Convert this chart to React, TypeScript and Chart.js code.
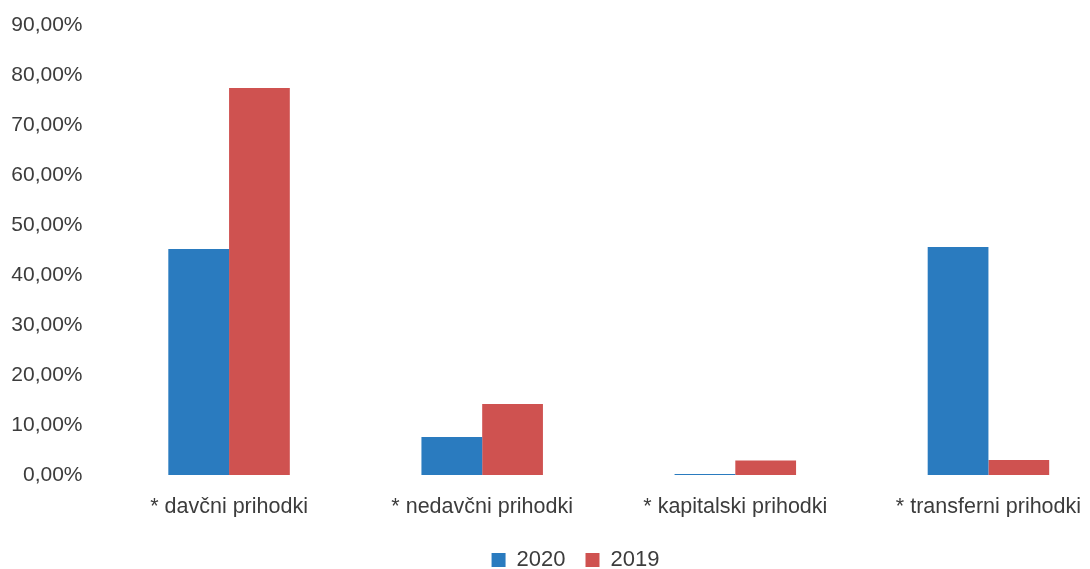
import React, { useEffect, useRef } from "react";
import { Chart, registerables } from "chart.js";

Chart.register(...registerables);

const categories = [
  "* davčni prihodki",
  "* nedavčni prihodki",
  "* kapitalski prihodki",
  "* transferni prihodki",
];
const series2020 = [45.2, 7.6, 0.2, 45.6];
const series2019 = [77.4, 14.2, 2.9, 3.0];
const yMin = 0;
const yMax = 90;
const yStep = 10;

const FONT = "'Liberation Sans', Arial, sans-serif";
const TEXT = "#3c3c3c";

const legendShift = {
  id: "legendShift",
  afterLayout(chart: any) {
    const lg = chart.legend;
    if (!lg) return;
    lg.left += 18;
    lg.right += 18;
    lg.top += 12;
    lg.bottom += 12;
  },
};

export default function App() {
  const ref = useRef<HTMLCanvasElement | null>(null);

  useEffect(() => {
    if (!ref.current) return;
    const chart = new Chart(ref.current, {
      type: "bar",
      data: {
        labels: categories,
        datasets: [
          {
            label: "2020",
            data: series2020,
            backgroundColor: "#2a7bbf",
            borderWidth: 0,
          },
          {
            label: "2019",
            data: series2019,
            backgroundColor: "#cf5250",
            borderWidth: 0,
          },
        ],
      },
      plugins: [legendShift],
      options: {
        responsive: false,
        animation: false,
        devicePixelRatio: 1,
        layout: { padding: { top: 25, left: 0, right: 0, bottom: 0 } },
        datasets: {
          bar: { categoryPercentage: 0.48, barPercentage: 1 },
        },
        plugins: {
          tooltip: { enabled: false },
          legend: {
            position: "bottom",
            labels: {
              boxWidth: 14,
              boxHeight: 14,
              padding: 20,
              color: TEXT,
              font: { family: FONT, size: 22 },
            },
          },
        },
        scales: {
          x: {
            grid: { display: false, drawTicks: false },
            border: { display: false },
            ticks: {
              autoSkip: false,
              maxRotation: 0,
              padding: 19,
              color: TEXT,
              font: { family: FONT, size: 21.5 },
            },
            afterFit: (s: any) => {
              const lh = s.chart.legend ? s.chart.legend.height : 32;
              s.height = 94 - lh;
            },
          },
          y: {
            min: yMin,
            max: yMax,
            grid: { display: false, drawTicks: false },
            border: { display: false },
            ticks: {
              stepSize: yStep,
              padding: 20,
              color: TEXT,
              font: { family: FONT, size: 21 },
              callback: (v: any) => Number(v).toFixed(2).replace(".", ",") + "%",
            },
            afterFit: (s: any) => {
              s.width = 102.5;
              s.paddingTop = 0;
              s.paddingBottom = 0;
            },
          },
        },
      },
    });
    return () => chart.destroy();
  }, []);

  return (
    <div
      style={{
        position: "fixed",
        left: 0,
        top: 0,
        width: 1090,
        height: 569,
        overflow: "hidden",
        background: "#fff",
      }}
    >
      <canvas ref={ref} width={1115} height={569} style={{ display: "block" }} />
    </div>
  );
}
